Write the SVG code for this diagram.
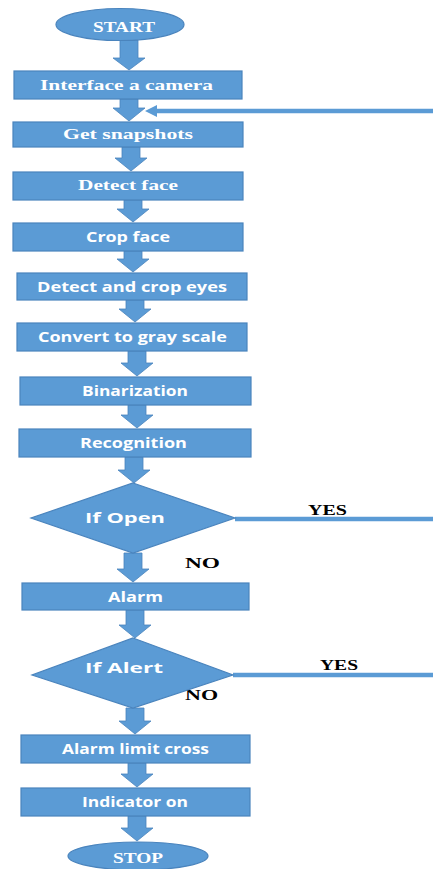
<svg xmlns="http://www.w3.org/2000/svg" width="433" height="869" viewBox="0 0 433 869">
<defs>
<style>
.box{fill:#5B9BD5;stroke:#4A84BD;stroke-width:1.2}
.arr{fill:#5B9BD5;stroke:#4A84BD;stroke-width:0.8}
.ln{stroke:#5B9BD5;stroke-width:4.5;fill:none}
.ts{font-family:"Liberation Serif",serif;font-weight:bold;font-size:15px;fill:#fff;text-anchor:start}
.tn{font-family:"Open Sans","Noto Sans",sans-serif;font-weight:bold;font-size:13.5px;fill:#fff;text-anchor:start}
.lb{font-family:"Liberation Serif",serif;font-weight:bold;font-size:15px;fill:#000}
</style>
</defs>
<rect width="433" height="869" fill="#fff"/>
<g id="connectors">
<path class="arr" d="M120,40 H138 V58 H145 L129,70 L113,58 H120 Z"/>
<path class="arr" d="M120,99 H138 V108 H145 L129,121 L113,108 H120 Z"/>
<path class="arr" d="M122,147 H140 V158 H147 L131,171 L115,158 H122 Z"/>
<path class="arr" d="M124,200 H142 V209 H149 L133,222 L117,209 H124 Z"/>
<path class="arr" d="M124,251 H142 V259 H149 L133,272 L117,259 H124 Z"/>
<path class="arr" d="M126,300 H144 V309 H151 L135,322 L119,309 H126 Z"/>
<path class="arr" d="M128,351 H146 V363 H153 L137,376 L121,363 H128 Z"/>
<path class="arr" d="M128,405 H146 V415 H153 L137,428 L121,415 H128 Z"/>
<path class="arr" d="M125,457 H143 V470 H150 L134,483 L118,470 H125 Z"/>
<path class="arr" d="M124,553 H142 V569 H149 L133,582 L117,569 H124 Z"/>
<path class="arr" d="M126,610 H144 V625 H151 L135,638 L119,625 H126 Z"/>
<path class="arr" d="M126,708 H144 V721 H151 L135,734 L119,721 H126 Z"/>
<path class="arr" d="M128,763 H146 V774 H153 L137,787 L121,774 H128 Z"/>
<path class="arr" d="M128,816 H146 V828 H153 L137,841 L121,828 H128 Z"/>
<line class="ln" x1="155" y1="111" x2="433" y2="111"/>
<path d="M145,111 L157,105 L157,117 Z" fill="#5B9BD5"/>
<line class="ln" x1="235" y1="519" x2="433" y2="519"/>
<line class="ln" x1="233" y1="675" x2="433" y2="675"/>
<text class="lb" x="308" y="515" textLength="39" lengthAdjust="spacingAndGlyphs">YES</text>
<text class="lb" x="320" y="670" textLength="38" lengthAdjust="spacingAndGlyphs">YES</text>
<text class="lb" x="185" y="568" textLength="35" lengthAdjust="spacingAndGlyphs">NO</text>
<text class="lb" x="185" y="700" textLength="33" lengthAdjust="spacingAndGlyphs">NO</text>
</g>
<g id="start">
<ellipse class="box" cx="120" cy="24.5" rx="64" ry="16"/>
<text class="ts" x="93" y="32" textLength="62" lengthAdjust="spacingAndGlyphs">START</text>
</g>
<g id="interface">
<rect class="box" x="14" y="71" width="228" height="28"/>
<text class="ts" x="40" y="90" textLength="173" lengthAdjust="spacingAndGlyphs">Interface a camera</text>
</g>
<g id="snapshots">
<rect class="box" x="13" y="122" width="230" height="25"/>
<text class="ts" x="63" y="139" textLength="130" lengthAdjust="spacingAndGlyphs">Get snapshots</text>
</g>
<g id="detectface">
<rect class="box" x="13" y="172" width="230" height="28"/>
<text class="ts" x="78" y="190" textLength="100" lengthAdjust="spacingAndGlyphs">Detect face</text>
</g>
<g id="cropface">
<rect class="box" x="13" y="223" width="230" height="28"/>
<text class="tn" x="86" y="242" textLength="84" lengthAdjust="spacingAndGlyphs">Crop face</text>
</g>
<g id="eyes">
<rect class="box" x="17" y="273" width="230" height="27"/>
<text class="tn" x="37" y="292" textLength="190" lengthAdjust="spacingAndGlyphs">Detect and crop eyes</text>
</g>
<g id="gray">
<rect class="box" x="17" y="323" width="230" height="28"/>
<text class="tn" x="38" y="342" textLength="189" lengthAdjust="spacingAndGlyphs">Convert to gray scale</text>
</g>
<g id="binarization">
<rect class="box" x="20" y="377" width="231" height="28"/>
<text class="tn" x="82" y="396" textLength="106" lengthAdjust="spacingAndGlyphs">Binarization</text>
</g>
<g id="recognition">
<rect class="box" x="19" y="429" width="232" height="28"/>
<text class="tn" x="80" y="448" textLength="107" lengthAdjust="spacingAndGlyphs">Recognition</text>
</g>
<g id="ifopen">
<polygon class="box" points="133,483 235,518 133,553 31,518"/>
<text class="tn" x="85" y="523" textLength="80" lengthAdjust="spacingAndGlyphs">If Open</text>
</g>
<g id="alarm">
<rect class="box" x="22" y="583" width="227" height="27"/>
<text class="tn" x="108" y="602" textLength="55" lengthAdjust="spacingAndGlyphs">Alarm</text>
</g>
<g id="ifalert">
<polygon class="box" points="133,638 233,675 133,708 32,675"/>
<text class="tn" x="85" y="673" textLength="78" lengthAdjust="spacingAndGlyphs">If Alert</text>
</g>
<g id="limit">
<rect class="box" x="21" y="735" width="229" height="28"/>
<text class="tn" x="62" y="754" textLength="147" lengthAdjust="spacingAndGlyphs">Alarm limit cross</text>
</g>
<g id="indicator">
<rect class="box" x="21" y="788" width="229" height="28"/>
<text class="tn" x="82" y="807" textLength="106" lengthAdjust="spacingAndGlyphs">Indicator on</text>
</g>
<g id="stop">
<ellipse class="box" cx="138" cy="856" rx="70" ry="14"/>
<text class="ts" x="113" y="863" textLength="50" lengthAdjust="spacingAndGlyphs">STOP</text>
</g>
</svg>
